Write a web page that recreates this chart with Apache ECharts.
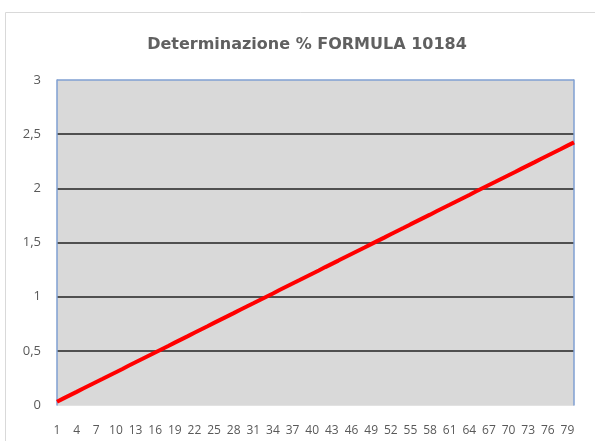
<!DOCTYPE html>
<html>
<head>
<meta charset="utf-8">
<script src="https://cdn.jsdelivr.net/npm/echarts@6/dist/echarts.min.js"></script>
<style>
html,body{margin:0;padding:0;background:#fff;}
#chart{width:595px;height:441px;}
</style>
</head>
<body>
<div id="chart"></div>
<script>
var title = 'Determinazione % FORMULA 10184';
var categories = ['1','2','3','4','5','6','7','8','9','10','11','12','13','14','15','16','17','18','19','20',
'21','22','23','24','25','26','27','28','29','30','31','32','33','34','35','36','37','38','39','40',
'41','42','43','44','45','46','47','48','49','50','51','52','53','54','55','56','57','58','59','60',
'61','62','63','64','65','66','67','68','69','70','71','72','73','74','75','76','77','78','79','80'];
var values = [0.030,0.061,0.091,0.121,0.152,0.182,0.212,0.242,0.273,0.303,
0.333,0.364,0.394,0.424,0.455,0.485,0.515,0.545,0.576,0.606,
0.636,0.667,0.697,0.727,0.758,0.788,0.818,0.848,0.879,0.909,
0.939,0.970,1.000,1.030,1.061,1.091,1.121,1.151,1.182,1.212,
1.242,1.273,1.303,1.333,1.364,1.394,1.424,1.454,1.485,1.515,
1.545,1.576,1.606,1.636,1.667,1.697,1.727,1.757,1.788,1.818,
1.848,1.879,1.909,1.939,1.970,2.000,2.030,2.060,2.091,2.121,
2.151,2.182,2.212,2.242,2.273,2.303,2.333,2.363,2.394,2.424];
var yMin = 0, yMax = 3, yStep = 0.5;

var chart = echarts.init(document.getElementById('chart'), null, {renderer:'canvas'});
var font = 'Open Sans';
chart.setOption({
  animation:false,
  backgroundColor:'#ffffff',
  graphic:[
    {type:'rect', shape:{x:5.5,y:12.5,width:620,height:460}, style:{fill:'none',stroke:'#d9d9d9',lineWidth:1}, z:-10}
  ],
  title:{
    text:title, left:302, textAlign:'center', top:32,
    textStyle:{fontFamily:'DejaVu Sans', fontSize:16, fontWeight:'bold', color:'#606060'}
  },
  grid:{left:57, right:21, top:80, bottom:36, show:true, backgroundColor:'#d9d9d9', borderWidth:0},
  xAxis:{
    type:'category', data:categories, boundaryGap:false,
    axisLine:{show:false}, axisTick:{show:false},
    splitLine:{show:false},
    axisLabel:{interval:2, color:'#595959', fontFamily:font, fontSize:12, margin:20}
  },
  yAxis:[{
    type:'value', min:yMin, max:yMax, interval:yStep,
    axisLine:{show:true, lineStyle:{color:'#7f9fd2', width:1.5}},
    axisTick:{show:false},
    axisLabel:{color:'#595959', fontFamily:font, fontSize:13, margin:16,
      formatter:function(v){return String(v).replace('.',',');}},
    splitLine:{show:true, lineStyle:{color:['#d9d9d9','#222','#222','#222','#222','#222','#7f9fd2'], width:1.5}}
  },{
    type:'value', min:yMin, max:yMax, interval:yStep, position:'right',
    axisLine:{show:true, lineStyle:{color:'#7f9fd2', width:1.5}},
    axisTick:{show:false}, axisLabel:{show:false}, splitLine:{show:false}
  }],
  series:[{
    type:'line', data:values, yAxisIndex:0, showSymbol:false, symbol:'none',
    lineStyle:{color:'#ff0000', width:4}, z:5
  }]
});
</script>
</body>
</html>
